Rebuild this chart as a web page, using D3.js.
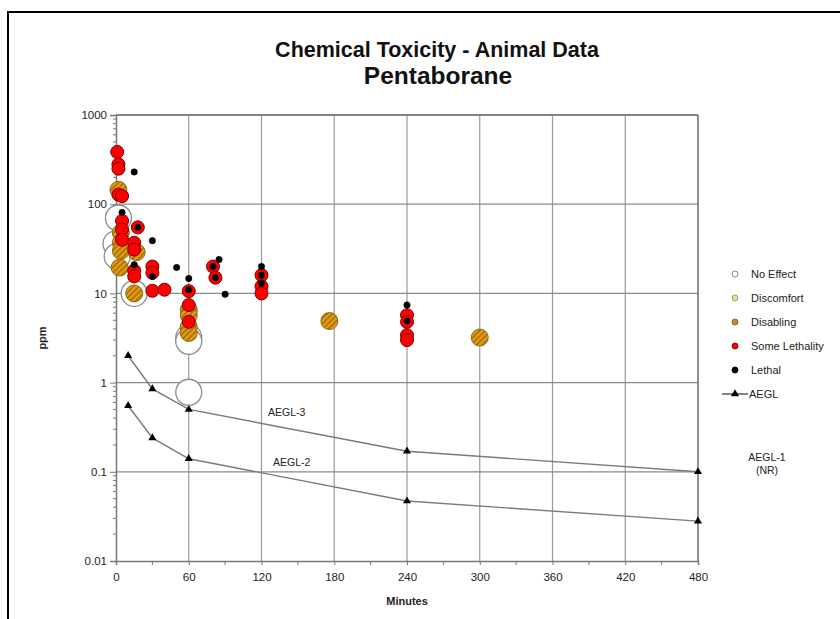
<!DOCTYPE html>
<html><head><meta charset="utf-8">
<script src="https://cdn.jsdelivr.net/npm/d3@7"></script>
<style>
body{margin:0;background:#fff;}
svg{display:block;font-family:"Liberation Sans",Arial,sans-serif;}
</style></head>
<body>
<svg id="chart" width="840" height="619"></svg>
<script>
// ---- data (minutes, ppm) ----
const xTicks = [0, 60, 120, 180, 240, 300, 360, 420, 480];
const yTicks = [0.01, 0.1, 1, 10, 100, 1000];
const yTickLabels = ["0.01", "0.1", "1", "10", "100", "1000"];
const legendLabels = ["No Effect", "Discomfort", "Disabling", "Some Lethality", "Lethal", "AEGL"];

const noEffect = [[2, 70], [0, 36], [1, 26], [15, 10], [60, 3.2], [60, 2.9], [60, 0.78]];
const discomfort = [];
const disabling = [[2, 145], [4, 48], [4, 37], [4, 30], [3, 19.5], [17, 29], [15, 10],
  [60, 6.5], [60, 5.7], [60, 4.2], [60, 3.6], [176, 4.9], [300, 3.2]];
const someLethality = [[1, 385], [2, 280], [2, 250], [2, 128], [5, 123], [5, 65], [5, 52], [5, 40],
  [18, 55], [15, 37], [15, 31], [15, 18], [15, 15.5], [30, 20], [30, 17], [30, 10.7], [40, 11],
  [60, 10.6], [60, 7.4], [60, 4.8], [80, 20], [82, 15], [120, 16], [120, 12], [120, 10],
  [240, 5.7], [240, 4.8], [240, 3.4], [240, 3.0]];
const lethal = [[15, 230], [5, 81], [18, 55], [30, 39], [15, 21], [30, 15.5], [50, 19.5],
  [60, 14.7], [60, 11], [80, 20], [82, 15], [85, 24], [90, 9.8], [120, 20], [120, 16], [120, 13],
  [240, 7.4], [240, 4.9]];
const aegl3 = [[10, 2.0], [30, 0.85], [60, 0.50], [240, 0.17], [480, 0.10]];
const aegl2 = [[10, 0.55], [30, 0.24], [60, 0.14], [240, 0.047], [480, 0.028]];

// ---- layout ----
const svg = d3.select("#chart");
const L = 116, R = 698, T = 115, B = 561;
const x = d3.scaleLinear().domain([0, 480]).range([L, R]);
const y = d3.scaleLog().domain([0.01, 1000]).range([B, T]);

// outer frame
svg.append("rect").attr("x", 8).attr("y", 12).attr("width", 840).attr("height", 640)
  .attr("fill", "none").attr("stroke", "#000").attr("stroke-width", 2);

// pattern for disabling
const defs = svg.append("defs");
const pat = defs.append("pattern").attr("id", "hatch").attr("patternUnits", "userSpaceOnUse")
  .attr("width", 4).attr("height", 4).attr("patternTransform", "rotate(45)");
pat.append("rect").attr("width", 4).attr("height", 4).attr("fill", "#E39E12");
pat.append("rect").attr("width", 1.6).attr("height", 4).attr("fill", "#A86A08");

// titles
svg.append("text").attr("x", 437).attr("y", 57).attr("text-anchor", "middle")
  .attr("font-size", 21.5).attr("font-weight", "bold").attr("fill", "#111")
  .text("Chemical Toxicity - Animal Data");
svg.append("text").attr("x", 438).attr("y", 84).attr("text-anchor", "middle")
  .attr("font-size", 24.5).attr("font-weight", "bold").attr("fill", "#111")
  .text("Pentaborane");

// gridlines
const g = svg.append("g");
g.selectAll(".vg").data(xTicks.slice(1)).join("line")
  .attr("x1", d => x(d)).attr("x2", d => x(d)).attr("y1", T).attr("y2", B)
  .attr("stroke", "#9a9a9a").attr("stroke-width", 1.2);
g.selectAll(".hg").data(yTicks.slice(1)).join("line")
  .attr("x1", L).attr("x2", R).attr("y1", d => y(d)).attr("y2", d => y(d))
  .attr("stroke", "#8a8a8a").attr("stroke-width", 1.3);

// axes
const xAxis = d3.axisBottom(x).tickValues(xTicks).tickSize(4).tickFormat(d3.format("d"));
const xg = svg.append("g").attr("transform", `translate(0,${B})`).call(xAxis);
xg.select(".domain").attr("stroke", "#777").attr("stroke-width", 1.5);
xg.selectAll(".tick line").attr("stroke", "#777");
xg.selectAll(".tick text").attr("font-size", 11.5).attr("fill", "#222").attr("dy", "1.1em")
  .attr("font-family", "Liberation Sans, Arial, sans-serif");
const xMinor = d3.range(30, 480, 60);
svg.append("g").selectAll("line").data(xMinor).join("line")
  .attr("x1", d => x(d)).attr("x2", d => x(d)).attr("y1", B).attr("y2", B + 4)
  .attr("stroke", "#777");

const yAxis = d3.axisLeft(y).tickValues(yTicks).tickSize(6).tickFormat((d, i) => yTickLabels[i]);
const yg = svg.append("g").attr("transform", `translate(${L},0)`).call(yAxis);
yg.select(".domain").attr("stroke", "#777").attr("stroke-width", 1.5);
yg.selectAll(".tick line").attr("stroke", "#777");
yg.selectAll(".tick text").attr("font-size", 11.5).attr("fill", "#222").attr("x", -9)
  .attr("font-family", "Liberation Sans, Arial, sans-serif");
const yMinor = [];
[0.01, 0.1, 1, 10, 100].forEach(b => { for (let k = 2; k <= 9; k++) yMinor.push(b * k); });
svg.append("g").selectAll("line").data(yMinor).join("line")
  .attr("x1", L - 3).attr("x2", L).attr("y1", d => y(d)).attr("y2", d => y(d))
  .attr("stroke", "#777");
// top & right frame
svg.append("line").attr("x1", L).attr("x2", R).attr("y1", T).attr("y2", T).attr("stroke", "#777").attr("stroke-width", 1.3);
svg.append("line").attr("x1", R).attr("x2", R).attr("y1", T).attr("y2", B).attr("stroke", "#777").attr("stroke-width", 1.3);

// axis titles
svg.append("text").attr("x", 407).attr("y", 605).attr("text-anchor", "middle")
  .attr("font-size", 11).attr("font-weight", "bold").attr("fill", "#222").text("Minutes");
svg.append("text").attr("transform", "translate(46,338) rotate(-90)").attr("text-anchor", "middle")
  .attr("font-size", 11).attr("font-weight", "bold").attr("fill", "#222").text("ppm");

// AEGL lines
const line = d3.line().x(d => x(d[0])).y(d => y(d[1]));
const tri = d3.symbol().type(d3.symbolTriangle).size(28);
[aegl3, aegl2].forEach(s => {
  svg.append("path").datum(s).attr("d", line).attr("fill", "none")
    .attr("stroke", "#7a7a7a").attr("stroke-width", 1.4);
  svg.append("g").selectAll("path").data(s).join("path")
    .attr("d", tri).attr("transform", d => `translate(${x(d[0])},${y(d[1])})`).attr("fill", "#000");
});
svg.append("text").attr("x", 268).attr("y", 416).attr("font-size", 10.5).attr("fill", "#222").text("AEGL-3");
svg.append("text").attr("x", 273).attr("y", 466).attr("font-size", 10.5).attr("fill", "#222").text("AEGL-2");
svg.append("text").attr("x", 767).attr("y", 461).attr("text-anchor", "middle").attr("font-size", 10.5).attr("fill", "#222").text("AEGL-1");
svg.append("text").attr("x", 767).attr("y", 474).attr("text-anchor", "middle").attr("font-size", 10.5).attr("fill", "#222").text("(NR)");

// data points
function pts(data, r, fill, stroke, sw) {
  svg.append("g").selectAll("circle").data(data).join("circle")
    .attr("cx", d => x(d[0])).attr("cy", d => y(d[1])).attr("r", r)
    .attr("fill", fill).attr("stroke", stroke).attr("stroke-width", sw);
}
pts(noEffect, 13, "#fff", "#8c8c8c", 1.3);
pts(discomfort, 6, "#e8e86a", "#888", 1);
pts(disabling, 8.5, "url(#hatch)", "#8a6a20", 1);
pts(someLethality, 6.5, "#ff0000", "#7a0000", 1);
pts(lethal, 3.2, "#000", "#000", 0.5);

// legend
const lx = 735, ly0 = 274, lstep = 24;
const legendStyles = [
  {fill: "#fff", stroke: "#888"}, {fill: "#e6e66e", stroke: "#999"},
  {fill: "#c98a1e", stroke: "#8a6a20"}, {fill: "#ff0000", stroke: "#a00"},
  {fill: "#000", stroke: "#000"}
];
const lg = svg.append("g");
legendLabels.forEach((lab, i) => {
  const yy = ly0 + i * lstep;
  if (i < 5) {
    lg.append("circle").attr("cx", lx).attr("cy", yy).attr("r", 3)
      .attr("fill", legendStyles[i].fill).attr("stroke", legendStyles[i].stroke).attr("stroke-width", 1);
  } else {
    lg.append("line").attr("x1", 722).attr("x2", 748).attr("y1", yy).attr("y2", yy).attr("stroke", "#333").attr("stroke-width", 1.2);
    lg.append("path").attr("d", tri).attr("transform", `translate(${lx},${yy})`).attr("fill", "#000");
  }
  lg.append("text").attr("x", i < 5 ? 751 : 749).attr("y", yy + 4).attr("font-size", 11)
    .attr("fill", "#222").text(lab);
});
</script>
</body></html>
